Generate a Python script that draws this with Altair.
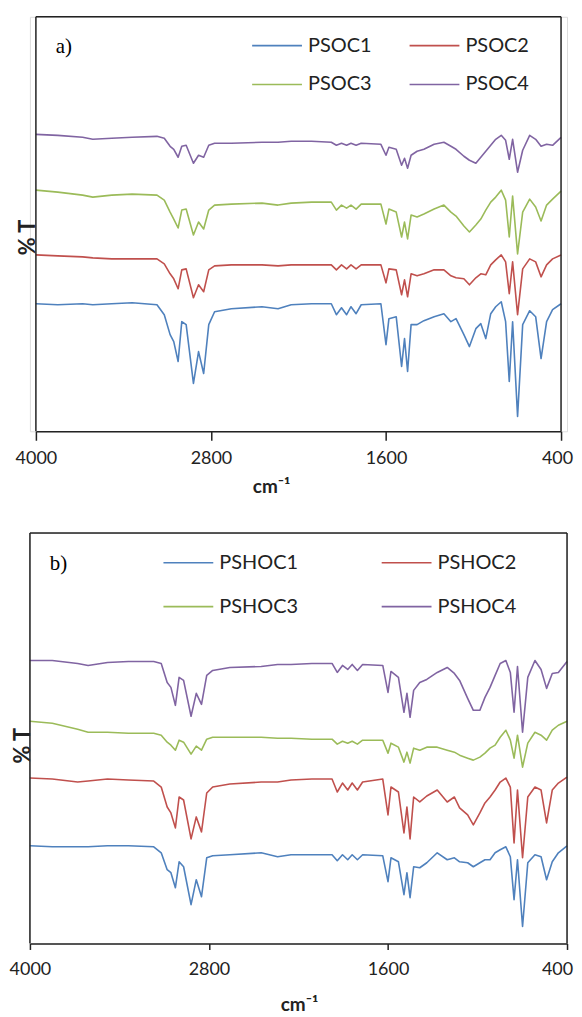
import altair as alt
import pandas as pd

# Shared wavenumber grid (cm-1) for both panels
wavenumber = [4000, 3850, 3680, 3610, 3480, 3340, 3170, 3120, 3080, 3055,
              3025, 3000, 2970, 2920, 2885, 2850, 2815, 2775, 2660, 2450,
              2340, 2250, 2110, 1975, 1940, 1905, 1870, 1840, 1805, 1770,
              1635, 1600, 1580, 1530, 1493, 1473, 1452, 1428, 1387, 1340,
              1270, 1203, 1155, 1120, 1066, 1028, 984, 950, 916, 882,
              848, 810, 780, 755, 732, 698, 663, 615, 574, 537,
              499, 458, 400]

# Panel a) stacked %T (arbitrary offset units)
psoc1 = [128, 127, 128, 127, 128, 129, 127, 117, 97, 90,
         70, 110, 107, 48, 80, 58, 107, 120, 123, 125,
         123, 127, 128, 128, 117, 124, 117, 125, 118, 127,
         128, 87, 113, 115, 65, 93, 60, 107, 107, 111,
         115, 118, 110, 113, 97, 85, 103, 108, 93, 118,
         125, 130, 110, 50, 110, 15, 107, 121, 115, 73,
         110, 122, 128]
psoc2 = [177, 176, 175, 174, 173, 173, 173, 168, 158, 153,
         143, 162, 163, 134, 147, 140, 162, 166, 167, 167,
         166, 167, 167, 167, 162, 167, 163, 167, 163, 167,
         167, 149, 163, 162, 137, 152, 135, 158, 156, 158,
         162, 162, 156, 154, 153, 147, 154, 158, 157, 167,
         172, 177, 170, 138, 170, 117, 163, 173, 170, 155,
         167, 173, 177]
psoc3 = [242, 240, 237, 235, 237, 238, 237, 232, 220, 213,
         204, 222, 223, 197, 210, 203, 222, 227, 228, 229,
         227, 229, 230, 230, 222, 227, 224, 227, 223, 228,
         228, 208, 223, 220, 195, 210, 193, 217, 215, 218,
         223, 227, 220, 216, 206, 200, 207, 213, 222, 230,
         235, 242, 232, 195, 236, 178, 220, 233, 225, 211,
         227, 233, 241]
psoc4 = [298, 297, 295, 293, 294, 295, 296, 294, 286, 283,
         275, 286, 287, 269, 277, 275, 287, 289, 289, 290,
         290, 291, 291, 290, 287, 289, 287, 289, 287, 289,
         288, 277, 285, 283, 267, 274, 264, 277, 281, 283,
         288, 290, 286, 283, 276, 272, 269, 275, 281, 287,
         293, 297, 292, 273, 293, 260, 282, 297, 293, 286,
         288, 287, 295]

# Panel b)
pshoc1 = [98, 97, 97, 97, 98, 98, 97, 91, 74, 71,
          56, 82, 77, 39, 64, 47, 86, 88, 89, 91,
          87, 89, 89, 89, 83, 89, 84, 89, 84, 89,
          88, 62, 86, 82, 49, 71, 46, 77, 76, 81,
          91, 84, 86, 82, 81, 77, 81, 84, 84, 91,
          94, 97, 87, 44, 84, 17, 81, 89, 87, 64,
          82, 91, 98]
pshoc2 = [166, 165, 162, 163, 165, 164, 163, 157, 137, 131,
          116, 147, 144, 105, 127, 112, 151, 157, 160, 162,
          162, 164, 165, 165, 152, 161, 154, 161, 154, 162,
          165, 129, 157, 152, 111, 137, 105, 147, 142, 148,
          154, 142, 147, 136, 129, 119, 131, 141, 147, 154,
          162, 166, 157, 101, 154, 86, 147, 157, 154, 121,
          154, 161, 167]
pshoc3 = [223, 221, 215, 212, 212, 211, 211, 209, 202, 199,
          194, 204, 202, 190, 198, 194, 205, 207, 207, 207,
          206, 206, 205, 205, 200, 203, 201, 203, 200, 204,
          204, 191, 201, 197, 182, 192, 181, 196, 194, 197,
          197, 194, 192, 189, 186, 184, 187, 191, 196, 199,
          207, 214, 204, 186, 209, 177, 201, 212, 209, 204,
          214, 219, 223]
pshoc4 = [284, 284, 281, 279, 282, 283, 283, 281, 262, 257,
          239, 267, 264, 228, 251, 240, 269, 274, 277, 278,
          280, 280, 281, 281, 272, 279, 275, 280, 274, 280,
          279, 252, 273, 267, 232, 251, 227, 254, 262, 265,
          272, 277, 271, 264, 246, 234, 234, 247, 257, 269,
          281, 284, 272, 232, 278, 212, 267, 284, 275, 256,
          271, 272, 283]

names_a = ["PSOC1", "PSOC2", "PSOC3", "PSOC4"]
names_b = ["PSHOC1", "PSHOC2", "PSHOC3", "PSHOC4"]
tick_values = [4000, 2800, 1600, 400]
colors = ["#4F81BD", "#C0504D", "#9BBB59", "#8064A2"]

FONT = "Lato"
W = 539


def one(d):
    return alt.Data(values=[d])


def panel(names, series, letter, c):
    rows = []
    for name, vals in zip(names, series):
        for w, v in zip(wavenumber, vals):
            rows.append({"wn": w, "t": v, "series": name})
    df = pd.DataFrame(rows)
    x0, x1 = c["range"]
    h = c["h"]
    xscale = alt.Scale(domain=[4000, 400], range=[x0, x1])
    yscale = alt.Scale(domain=[0, h])

    lines = alt.Chart(df).mark_line(strokeWidth=1.6, strokeJoin="round").encode(
        x=alt.X("wn:Q", scale=xscale, axis=alt.Axis(
            values=tick_values, format="d", grid=False,
            labelFont=FONT, labelFontSize=18, labelColor="#222",
            labelFlush=False, labelOverlap=False, labelBound=False,
            labelOffset={"condition": {"test": "datum.value == 400",
                                       "value": c["last_off"]}, "value": 0},
            labelPadding=c["lpad"], tickSize=c["tick"], tickColor="#222",
            tickWidth=1.5, domainColor="#222", domainWidth=1.5,
            title="cm⁻¹", titleFont=FONT, titleFontSize=19,
            titleFontWeight="bold", titleColor="#222",
            titleX=c["tx"], titleY=c["ty"], titleAlign="center",
            titleBaseline="alphabetic")),
        y=alt.Y("t:Q", scale=yscale, axis=alt.Axis(
            labels=False, ticks=False, domain=False, grid=False,
            title="% T", titleFont=FONT, titleFontSize=22,
            titleFontWeight="bold", titleColor="#222", titleAngle=270,
            titleX=c["yx"], titleY=c["yy"], titleAlign="center",
            titleBaseline="alphabetic")),
        color=alt.Color("series:N", scale=alt.Scale(domain=names, range=colors),
                        legend=None),
    )

    frame = [
        alt.Chart(one({"k": 0})).mark_rule(color="#222", strokeWidth=1.5).encode(
            x=alt.value(x0), y=alt.value(0), y2=alt.value(h)),
        alt.Chart(one({"k": 1})).mark_rule(color="#222", strokeWidth=1.5).encode(
            x=alt.value(x1), y=alt.value(0), y2=alt.value(h)),
        alt.Chart(one({"k": 2})).mark_rule(color="#222", strokeWidth=1.5).encode(
            x=alt.value(x0), x2=alt.value(x1), y=alt.value(0)),
    ]

    legend = []
    for i, name in enumerate(names):
        col, row = i % 2, i // 2
        lx = c["leg_x"][col]
        ly = c["leg_y"][row]
        legend.append(alt.Chart(one({"n": name})).mark_rule(
            color=colors[i], strokeWidth=1.6).encode(
            x=alt.value(lx), x2=alt.value(lx + 50), y=alt.value(ly)))
        legend.append(alt.Chart(one({"n": name})).mark_text(
            text=name, align="left", baseline="middle", font=FONT,
            fontSize=20, color="#222").encode(
            x=alt.value(lx + c["leg_gap"]), y=alt.value(ly)))

    tag = alt.Chart(one({"t": letter})).mark_text(
        text=letter, align="left", baseline="alphabetic",
        font="Liberation Serif", fontSize=21, color="#000").encode(
        x=alt.value(c["tag"][0]), y=alt.value(c["tag"][1]))

    return alt.layer(lines, *frame, *legend, tag).properties(width=W, height=h)


cfg_a = dict(range=[6, 533], h=416, lpad=9, tick=9, tx=242, ty=61, yx=5, yy=221,
             leg_x=[223, 381], leg_y=[29, 68], leg_gap=56, tag=(26, 36),
             last_off=-4)
cfg_b = dict(range=[0, 539], h=412, lpad=11, tick=6, tx=270, ty=67, yx=0, yy=213,
             leg_x=[134, 353], leg_y=[30, 74], leg_gap=56, tag=(20, 37),
             last_off=-10)

pa = panel(names_a, [psoc1, psoc2, psoc3, psoc4], "a)", cfg_a)
pb = panel(names_b, [pshoc1, pshoc2, pshoc3, pshoc4], "b)", cfg_b)

chart = alt.vconcat(pa, pb, spacing=34).resolve_scale(
    x="independent", y="independent", color="independent"
).properties(
    padding={"left": 0, "top": 5, "right": 0, "bottom": 0}
).configure_view(stroke=None).configure(background="white")

chart.save("out.html", embed_options={"renderer": "svg", "actions": False})
